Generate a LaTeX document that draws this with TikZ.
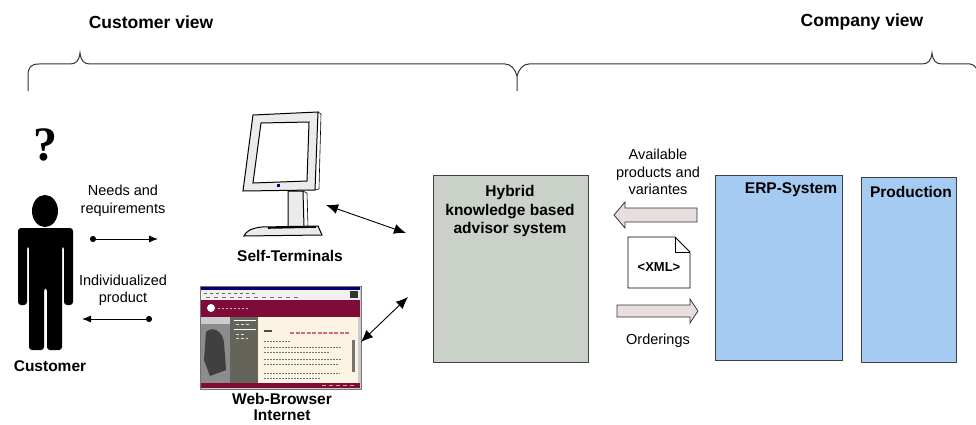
\documentclass[tikz,border=0pt]{standalone}
\usepackage{fontspec}
\setmainfont{Liberation Sans}
\newfontfamily\qfont{Liberation Serif}
\usepackage{xcolor}
\usetikzlibrary{arrows.meta}

\definecolor{advisor}{HTML}{C9D1C9}
\definecolor{erpblue}{HTML}{A6CBF3}
\definecolor{flow}{HTML}{E8DEDE}
\definecolor{maroon}{HTML}{7E0B38}
\definecolor{cream}{HTML}{FBF4E3}
\definecolor{navcol}{HTML}{64645A}

\begin{document}
\begin{tikzpicture}[x=1pt,y=-1pt,>={Latex[length=12pt,width=10pt]},
  lbl/.style={font=\fontsize{14.5}{17.5}\selectfont,align=center},
  hdr/.style={font=\bfseries\fontsize{15.5}{18.5}\selectfont,align=center},
  view/.style={font=\bfseries\fontsize{17.5}{20}\selectfont},
  box/.style={draw=black!75,line width=1pt,inner sep=0pt},
  dotarrow/.style={line width=0.9pt,{Circle[length=6pt]}-{Latex[length=9pt,width=7pt]}},
  fat/.style={fill=flow,draw=black!80,line width=0.8pt}]
  \useasboundingbox (0,0) rectangle (976,425);

  % the two views with their braces
  \node[view] (custview) at (151,22) {Customer view};
  \node[view] (compview) at (862,22) {Company view};
  \draw[line width=1pt,black!80] (28,91) -- (28,76) .. controls (28,67) and (31,64) .. (39,64) -- (70,64)
    .. controls (76,64) and (79,61) .. (80,53) .. controls (81,61) and (84,64) .. (90,64) -- (505,64)
    .. controls (511,64) and (515,69) .. (517,76) -- (517,91);
  \draw[line width=1pt,black!80] (517,76) .. controls (519,69) and (523,64) .. (529,64) -- (922,64)
    .. controls (928,64) and (931,61) .. (932,53) .. controls (933,61) and (936,64) .. (942,64) -- (970,64)
    .. controls (973,64) and (975,66) .. (976,68);

  % customer
  \node[font=\qfont\bfseries\fontsize{48}{48}\selectfont] (quest) at (45,145) {?};
  \fill (45,211) ellipse (13 and 16);
  \fill[rounded corners=3pt] (18,305) -- (18,228) -- (73,228) -- (73,305) -- (64,305) -- (64,246)
    -- (62,246) -- (62,350) -- (47,350) -- (47,288) -- (44,288) -- (44,350) -- (29,350)
    -- (29,246) -- (27,246) -- (27,305) -- cycle;
  \node[hdr] (cust) at (50,366) {Customer};

  \node[lbl] (needs) at (123,201) {Needs and\\requirements};
  \coordinate (needsA) at (90,239);
  \coordinate (needsB) at (158,239);
  \draw[dotarrow] (needsA) -- (needsB);
  \node[lbl] (indiv) at (123,290) {Individualized\\product};
  \coordinate (prodA) at (152,319);
  \coordinate (prodB) at (82,319);
  \draw[dotarrow] (prodA) -- (prodB);

  % self terminal
  \filldraw[fill=black!8,line width=1pt] (253,115) -- (318,112) -- (315,190) -- (243,191) -- cycle;
  \draw[line width=0.6pt] (318,112) -- (321,114) -- (319,189) -- (315,190);
  \filldraw[fill=white,line width=1pt] (261,123) -- (309,122) -- (307,181) -- (253,183) -- cycle;
  \fill[blue!60!black] (277,184) rectangle (280,187);
  \filldraw[fill=black!8,line width=1pt] (288,191) -- (303,191) -- (304,227) -- (288,227) -- cycle;
  \draw[line width=0.6pt] (303,191) -- (307,193) -- (308,227);
  \filldraw[fill=black!8,line width=1pt] (244,236) .. controls (246,231) and (252,228) .. (262,227)
    -- (318,226) -- (322,235) -- cycle;
  \draw[line width=1.6pt] (268,228) -- (316,227);
  \node[hdr] (term) at (290,256) {Self-Terminals};

  % web browser
  \filldraw[fill=black!20,draw=black!55] (200,286) rectangle (361,389);
  \fill[blue!45!black] (201,287) rectangle (360,290);
  \fill[black!6] (201,290) rectangle (360,300);
  \foreach \x in {204,210,...,252} \fill[black!60] (\x,292.5) rectangle +(3,1.5);
  \foreach \x in {206,214,...,300} \fill[black!55] (\x,296.5) rectangle +(4,1.5);
  \fill[black!80] (350,291) rectangle (358,298);
  \fill[maroon] (201,300) rectangle (360,317);
  \fill[white] (211,308) circle (4);
  \draw[white!70!maroon,line width=1pt,dash pattern=on 2pt off 2pt] (218,308) -- (250,308);
  \fill[black!45] (201,317) rectangle (230,383);
  \fill[black!75] (206,332) .. controls (212,326) and (222,330) .. (224,342) -- (226,370) -- (210,376) -- (204,360) -- cycle;
  \fill[black!20] (201,317) rectangle (230,324);
  \fill[navcol] (230,317) rectangle (258,383);
  \draw[white,line width=0.8pt] (234,320) -- (256,320) (234,329) -- (256,329);
  \draw[white!80!navcol,line width=0.8pt,dash pattern=on 3pt off 2pt] (236,324) -- (250,324) (236,334) -- (246,334) (236,338) -- (248,338);
  \fill[cream] (258,317) rectangle (358,383);
  \draw[red!40!maroon!60,line width=1.6pt,dash pattern=on 4pt off 1.5pt] (290,333) -- (350,333);
  \draw[black!70,line width=1.2pt] (264,331) -- (272,331);
  \foreach \y/\e in {341/290,347/342,352/330,359/342,364/338,373/340,378/320}
    \draw[black!55,line width=0.9pt,dash pattern=on 2pt off 1pt] (264,\y) -- (\e,\y);
  \fill[black!55] (352,340) rectangle (354.5,372);
  \fill[maroon] (201,383) rectangle (360,388);
  \draw[white!60!maroon,line width=0.8pt,dash pattern=on 4pt off 3pt] (322,385.5) -- (356,385.5);
  \node[hdr,font=\bfseries\fontsize{15.5}{16}\selectfont] (web) at (282,407) {Web-Browser\\Internet};

  % advisor system
  \node[box,fill=advisor,minimum width=155pt,minimum height=187pt] (advisor) at (510.5,268.5) {};
  \node[hdr] (advtext) at (510,211) {Hybrid\\knowledge based\\advisor system};
  \coordinate (termEnd) at (326,205);
  \coordinate (advTop) at (406,233);
  \draw[<->,line width=0.9pt] (termEnd) -- (advTop);
  \coordinate (webEnd) at (361,342);
  \coordinate (advLow) at (408,297);
  \draw[<->,line width=0.9pt] (webEnd) -- (advLow);

  % exchange with the ERP system
  \node[lbl] (avail) at (658,172) {Available\\products and\\variantes};
  \filldraw[fat] (697,208) -- (625,208) -- (625,202) -- (614,215) -- (625,228) -- (625,222) -- (697,222) -- cycle;
  \filldraw[fill=white,line width=0.8pt] (628,237) -- (675,237) -- (690,252) -- (690,288) -- (628,288) -- cycle;
  \draw[line width=0.8pt] (675,237) -- (675,252) -- (690,252);
  \node[font=\bfseries\fontsize{13}{15}\selectfont] (xml) at (659,267) {<XML>};
  \filldraw[fat] (617,305) -- (690,305) -- (690,299) -- (698,311) -- (690,323) -- (690,317) -- (617,317) -- cycle;
  \node[lbl] (order) at (658,341) {Orderings};

  % company side
  \node[box,fill=erpblue,minimum width=127pt,minimum height=185pt] (erp) at (778.5,267.5) {};
  \node[hdr] (erptext) at (791,190) {ERP-System};
  \node[box,fill=erpblue,minimum width=95pt,minimum height=185pt] (prod) at (908.5,269.5) {};
  \node[hdr] (prodtext) at (911,192) {Production};
\end{tikzpicture}
\end{document}
